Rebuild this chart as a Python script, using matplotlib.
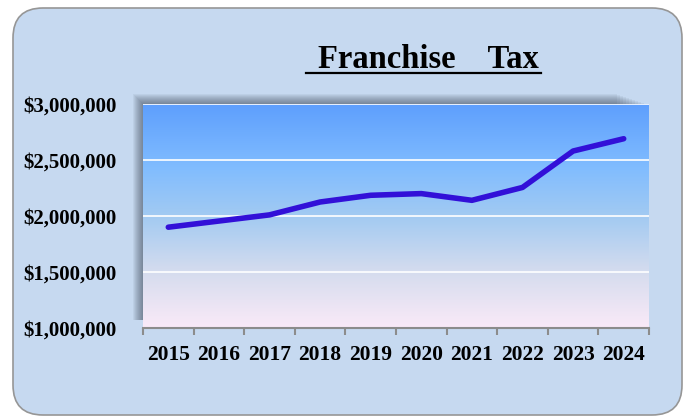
import numpy as np
import matplotlib
matplotlib.use("Agg")
import matplotlib.pyplot as plt
from matplotlib.colors import LinearSegmentedColormap
from matplotlib.patches import FancyBboxPatch, Rectangle
from matplotlib.ticker import FuncFormatter, FixedLocator

years = ["2015", "2016", "2017", "2018", "2019", "2020", "2021", "2022", "2023", "2024"]
tax = [1900000, 1955000, 2010000, 2125000, 2185000, 2200000, 2140000, 2255000, 2580000, 2690000]
y_ticks = [1000000, 1500000, 2000000, 2500000, 3000000]

plt.rcParams['font.family'] = ['Liberation Serif', 'DejaVu Serif']

W, H = 686, 416
fig = plt.figure(figsize=(W / 100, H / 100), dpi=100)
fig.patch.set_facecolor("white")

# rounded panel behind everything (pixel units via display transform)
panel = FancyBboxPatch((13, 1), 669, 407,
                       boxstyle="round,pad=0,rounding_size=30",
                       transform=None, facecolor="#c6d9f0",
                       edgecolor="#969696", linewidth=1.2, zorder=0)
fig.patches.append(panel)

ax_l, ax_b, ax_w, ax_h = 143 / W, 88 / H, 506 / W, 224 / H

# soft shadow up-left of the plot area
for i in range(10):
    off = (i + 1) * 1.0
    fig.patches.append(Rectangle(((143 - off) / W, 96 / H), (502 - 2 * i) / W, (224 - 8 + off) / H,
                                 transform=fig.transFigure, facecolor="#2a3040",
                                 edgecolor="none", alpha=0.06, zorder=1))

ax = fig.add_axes([ax_l, ax_b, ax_w, ax_h])
ax.set_zorder(2)

x = np.arange(len(years))
ax.set_xlim(-0.5, len(years) - 0.5)
ax.set_ylim(1000000, 3000000)

cmap = LinearSegmentedColormap.from_list(
    "bg", [(0.0, "#faeaf8"), (0.25, "#d5dcee"), (0.5, "#a2caf2"),
           (0.72, "#80bcff"), (1.0, "#5e9ffd")])
grad = np.linspace(0, 1, 256).reshape(-1, 1)
ax.imshow(grad, cmap=cmap, origin="lower", aspect="auto",
          extent=(-0.5, len(years) - 0.5, 1000000, 3000000), zorder=0)

for v in y_ticks[1:]:
    ax.axhline(v, color="white", linewidth=1.2, zorder=1)

ax.plot(x, tax, color="#3210d8", linewidth=4, solid_capstyle="round",
        solid_joinstyle="round", zorder=3)

ax.yaxis.set_major_locator(FixedLocator(y_ticks))
ax.yaxis.set_major_formatter(FuncFormatter(lambda v, p: "${:,.0f}".format(v)))
ax.tick_params(axis="y", length=0, pad=19, labelsize=15)
for lab in ax.get_yticklabels():
    lab.set_fontweight("bold")

ax.set_xticks(x)
ax.set_xticklabels(years, fontweight="bold", fontsize=15.5)
ax.set_xticks(np.arange(-0.5, len(years)), minor=True)
ax.tick_params(axis="x", which="major", length=0, pad=12)
ax.tick_params(axis="x", which="minor", length=5, width=1.5, color="#8c8c8c")

for s in ["top", "left", "right"]:
    ax.spines[s].set_visible(False)
ax.spines["bottom"].set_color("#8c8c8c")
ax.spines["bottom"].set_linewidth(1.5)

fig.text(428 / W, 1 - 60 / H, "Franchise    Tax", ha="center", va="center",
         fontsize=23.5, fontweight="bold")
fig.add_artist(plt.Line2D([306 / W, 541 / W], [1 - 73 / H, 1 - 73 / H],
                          color="black", linewidth=1.6, transform=fig.transFigure))

fig.savefig("out.png", dpi=100, facecolor=fig.get_facecolor())
